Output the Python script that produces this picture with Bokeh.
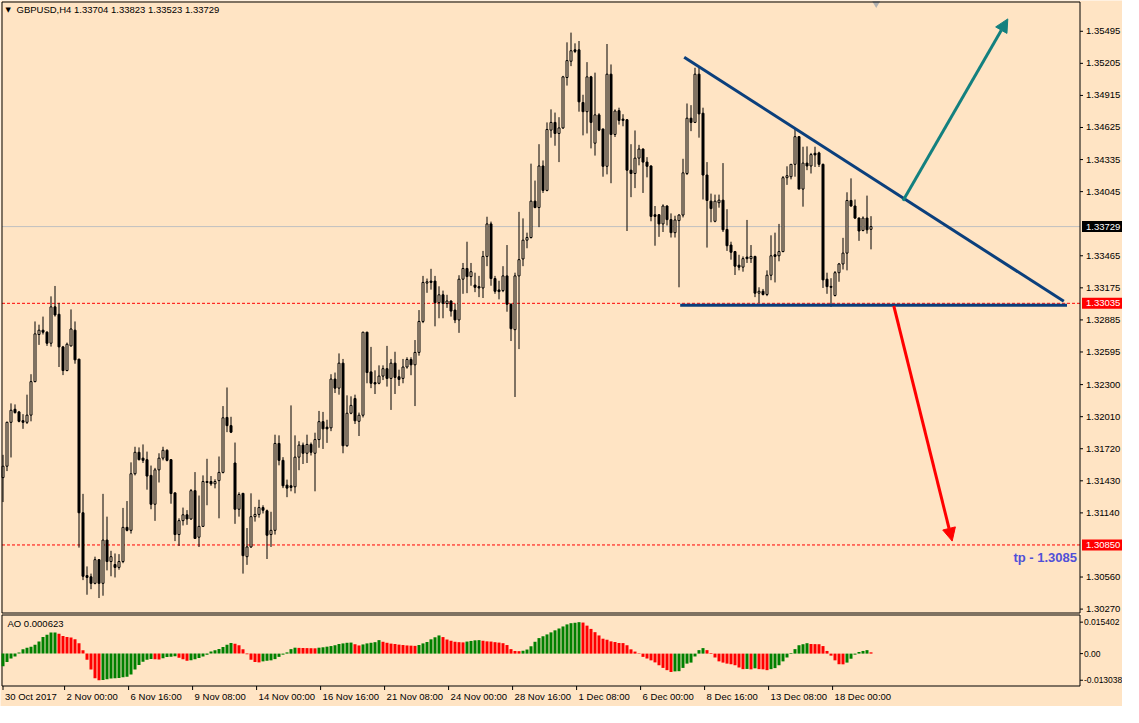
import numpy as np
from bokeh.plotting import figure
from bokeh.models import Range1d, ColumnDataSource, Arrow, NormalHead
from bokeh.core.properties import value
from bokeh.embed import file_html
from bokeh.resources import INLINE

BG = "#FFE4C4"
FONT = "Liberation Sans"
FS = "9.5px"

chart_title = "GBPUSD,H4  1.33704 1.33823 1.33523 1.33729"
ao_title = "AO 0.000623"

opens = [1.31459,1.31562,1.31959,1.32077,1.32053,1.31974,1.31959,1.32024,1.32327,1.32753,
1.32792,1.32774,1.32674,1.33003,1.32936,1.32641,1.32427,1.32650,1.32792,1.32530,
1.31141,1.30573,1.30562,1.30503,1.30717,1.30503,1.30894,1.30700,1.30673,1.30647,
1.30700,1.31009,1.30982,1.31494,1.31688,1.31635,1.31621,1.31479,1.31218,1.31529,
1.31635,1.31706,1.31621,1.31321,1.30944,1.31070,1.31123,1.31085,1.31341,1.30920,
1.31018,1.31424,1.31424,1.31403,1.31432,1.31506,1.32003,1.31929,1.31591,1.31173,
1.31317,1.30744,1.30832,1.31106,1.31126,1.31188,1.31159,1.30944,1.30982,1.31768,
1.31615,1.31391,1.31385,1.31376,1.31644,1.31753,1.31679,1.31759,1.31679,1.31803,
1.31965,1.31915,1.31909,1.32350,1.32268,1.32494,1.31747,1.32041,1.32174,1.31968,
1.32023,1.32774,1.32415,1.32318,1.32312,1.32377,1.32444,1.32356,1.32494,1.32371,
1.32356,1.32459,1.32527,1.32479,1.32591,1.32871,1.33218,1.33236,1.33236,1.33041,
1.33112,1.33033,1.33056,1.32974,1.32885,1.33253,1.33350,1.33277,1.33200,1.33186,
1.33174,1.33459,1.33753,1.33259,1.33156,1.33150,1.33283,1.33027,1.32797,1.33283,
1.33436,1.33606,1.33630,1.33959,1.33901,1.34277,1.34056,1.34601,1.34671,1.34571,
1.34621,1.35077,1.35224,1.35327,1.35327,1.34851,1.34768,1.35083,1.34483,1.34739,
1.34612,1.34274,1.35107,1.34562,1.34777,1.34701,1.34695,1.34239,1.34209,1.34348,
1.34430,1.34312,1.34277,1.33836,1.33836,1.33753,1.33915,1.33792,1.33674,1.33783,
1.33833,1.34209,1.34709,1.34671,1.35107,1.34754,1.34195,1.33959,1.33777,1.33945,
1.33968,1.33703,1.33562,1.33503,1.33380,1.33362,1.33453,1.33439,1.33459,1.33127,
1.33144,1.33115,1.33289,1.33474,1.33465,1.33503,1.34171,1.34180,1.34292,1.34542,
1.34068,1.34303,1.34277,1.34392,1.34395,1.34292,1.33253,1.33188,1.33106,1.33312,
1.33391,1.33489,1.33965,1.33915,1.33806,1.33694,1.33806,1.33704]

highs = [1.31665,1.31965,1.32130,1.32121,1.32062,1.32033,1.32209,1.32394,1.32871,1.32842,
1.32915,1.32783,1.33098,1.33192,1.33039,1.32650,1.32680,1.32980,1.32871,1.32533,
1.31312,1.30656,1.30591,1.30744,1.30723,1.31312,1.31106,1.30797,1.30773,1.30767,
1.31185,1.31247,1.31597,1.31738,1.31732,1.31759,1.31694,1.31568,1.31547,1.31679,
1.31738,1.31715,1.31627,1.31321,1.31091,1.31188,1.31165,1.31356,1.31509,1.31297,
1.31479,1.31629,1.31473,1.31444,1.31650,1.32106,1.32274,1.32009,1.31776,1.31326,
1.31317,1.31003,1.31317,1.31194,1.31259,1.31209,1.31170,1.31150,1.31847,1.31841,
1.31644,1.31441,1.32112,1.31841,1.31788,1.31776,1.31847,1.31776,1.31865,1.32062,
1.32053,1.31982,1.32394,1.32409,1.32582,1.32532,1.32203,1.32194,1.32209,1.32047,
1.32777,1.32777,1.32641,1.32429,1.32474,1.32474,1.32650,1.32532,1.32597,1.32435,
1.32532,1.32547,1.32547,1.32703,1.32974,1.33283,1.33259,1.33347,1.33283,1.33189,
1.33150,1.33112,1.33062,1.33033,1.33289,1.33400,1.33592,1.33400,1.33312,1.33283,
1.33509,1.33818,1.33774,1.33283,1.33239,1.33371,1.33562,1.33033,1.33312,1.33862,
1.33803,1.33674,1.34298,1.34145,1.34474,1.34327,1.34671,1.34789,1.34760,1.34718,
1.35092,1.35395,1.35483,1.35386,1.35407,1.34921,1.35216,1.35092,1.35121,1.34754,
1.34612,1.35380,1.35195,1.34789,1.34804,1.34745,1.34701,1.34474,1.34598,1.34468,
1.34436,1.34357,1.34283,1.33915,1.33842,1.33930,1.33921,1.33848,1.33827,1.33842,
1.34342,1.34842,1.34827,1.35165,1.35180,1.34804,1.34312,1.34027,1.34018,1.34018,
1.34303,1.33886,1.33592,1.33509,1.33474,1.33459,1.33789,1.33562,1.33465,1.33180,
1.33165,1.33333,1.33650,1.33674,1.33753,1.34186,1.34274,1.34292,1.34621,1.34548,
1.34451,1.34454,1.34395,1.34451,1.34406,1.34298,1.33312,1.33262,1.33327,1.33400,
1.33627,1.34039,1.34165,1.33974,1.33812,1.33821,1.34009,1.33823]

lows = [1.31238,1.31518,1.31641,1.32038,1.31959,1.31900,1.31944,1.31968,1.32321,1.32659,
1.32753,1.32650,1.32644,1.32915,1.32459,1.32386,1.32421,1.32644,1.32489,1.30826,
1.30532,1.30400,1.30450,1.30494,1.30370,1.30391,1.30620,1.30567,1.30556,1.30626,
1.30685,1.30973,1.30953,1.31479,1.31615,1.31591,1.31350,1.31173,1.31068,1.31415,
1.31615,1.31606,1.31223,1.30885,1.30841,1.31026,1.31032,1.31076,1.30909,1.30832,
1.31012,1.31209,1.31385,1.31362,1.31091,1.31497,1.31870,1.31862,1.31041,1.31106,
1.30591,1.30670,1.30823,1.31061,1.31097,1.31135,1.30723,1.30832,1.30944,1.31570,
1.31364,1.31282,1.31335,1.31317,1.31526,1.31582,1.31591,1.31659,1.31335,1.31729,
1.31718,1.31773,1.31879,1.32224,1.32209,1.31679,1.31738,1.32032,1.31944,1.31835,
1.32003,1.32312,1.32268,1.32215,1.32303,1.32341,1.32282,1.32071,1.32215,1.32288,
1.32312,1.32444,1.32385,1.32106,1.32562,1.32856,1.33130,1.33159,1.32827,1.32900,
1.32900,1.32994,1.32915,1.32856,1.32768,1.33121,1.33127,1.33194,1.33136,1.33091,
1.33083,1.33371,1.33194,1.33121,1.33071,1.33136,1.32959,1.32694,1.32188,1.32621,
1.33371,1.33533,1.33621,1.33895,1.33724,1.34033,1.34048,1.34533,1.34460,1.34312,
1.34612,1.35004,1.35180,1.35298,1.34768,1.34554,1.34571,1.34436,1.34371,1.34592,
1.34180,1.34201,1.34121,1.34539,1.34651,1.34636,1.33689,1.33995,1.34077,1.34283,
1.34033,1.34174,1.33777,1.33556,1.33636,1.33680,1.33739,1.33630,1.33630,1.33180,
1.33812,1.34195,1.34592,1.34665,1.34533,1.33974,1.33539,1.33768,1.33768,1.33900,
1.33680,1.33509,1.33430,1.33291,1.33333,1.33321,1.33400,1.33400,1.33091,1.33038,
1.33106,1.33100,1.33244,1.33224,1.33415,1.33497,1.34106,1.34156,1.34180,1.34068,
1.33909,1.34239,1.34209,1.34268,1.34268,1.33174,1.33121,1.33003,1.33097,1.33230,
1.33341,1.33333,1.33909,1.33797,1.33600,1.33686,1.33665,1.33523]

closes = [1.31562,1.31959,1.32068,1.32047,1.31968,1.31959,1.32024,1.32327,1.32759,1.32792,
1.32774,1.32674,1.33003,1.32930,1.32641,1.32427,1.32665,1.32803,1.32524,1.31141,
1.30567,1.30556,1.30503,1.30717,1.30503,1.30894,1.30700,1.30744,1.30647,1.30700,
1.31009,1.30982,1.31494,1.31688,1.31621,1.31615,1.31473,1.31218,1.31529,1.31635,
1.31706,1.31615,1.31315,1.30944,1.31070,1.31123,1.31085,1.31341,1.30909,1.31018,
1.31424,1.31415,1.31403,1.31424,1.31506,1.32000,1.31929,1.31870,1.31173,1.31306,
1.30753,1.30832,1.31106,1.31126,1.31188,1.31164,1.30938,1.30982,1.31768,1.31615,
1.31385,1.31364,1.31370,1.31644,1.31753,1.31679,1.31759,1.31688,1.31803,1.31965,
1.31900,1.31900,1.32350,1.32268,1.32494,1.31747,1.32041,1.32112,1.31973,1.32023,
1.32774,1.32409,1.32312,1.32306,1.32377,1.32444,1.32356,1.32494,1.32365,1.32347,
1.32459,1.32527,1.32479,1.32591,1.32871,1.33224,1.33230,1.33224,1.33041,1.33112,
1.33033,1.33056,1.32965,1.32885,1.33253,1.33350,1.33277,1.33321,1.33180,1.33174,
1.33459,1.33753,1.33259,1.33144,1.33141,1.33283,1.33027,1.32806,1.33283,1.33430,
1.33606,1.33630,1.33959,1.33901,1.34277,1.34056,1.34607,1.34671,1.34571,1.34621,
1.35083,1.35230,1.35319,1.35313,1.34857,1.34768,1.35083,1.34671,1.34739,1.34601,
1.34274,1.35107,1.34562,1.34774,1.34689,1.34689,1.34239,1.34209,1.34348,1.34430,
1.34312,1.34274,1.33821,1.33821,1.33753,1.33915,1.33792,1.33674,1.33789,1.33833,
1.34215,1.34709,1.34671,1.35107,1.34748,1.34195,1.33965,1.33892,1.33959,1.33968,
1.33700,1.33556,1.33497,1.33371,1.33362,1.33439,1.33439,1.33459,1.33127,1.33144,
1.33115,1.33289,1.33465,1.33459,1.33503,1.34171,1.34189,1.34292,1.34542,1.34068,
1.34303,1.34277,1.34380,1.34377,1.34292,1.33247,1.33186,1.33180,1.33312,1.33391,
1.33489,1.33965,1.33915,1.33806,1.33689,1.33806,1.33700,1.33729]

ao = [-0.00620,-0.00410,-0.00240,-0.00140,0.00060,0.00210,0.00290,0.00330,0.00440,0.00590,
0.00810,0.00920,0.01030,0.01035,0.00970,0.00860,0.00810,0.00790,0.00700,0.00510,
0.00170,-0.00300,-0.00780,-0.01210,-0.013038,-0.01290,-0.01250,-0.01220,-0.01210,-0.01190,
-0.01160,-0.01130,-0.01020,-0.00780,-0.00560,-0.00400,-0.00300,-0.00260,-0.00280,-0.00290,
-0.00230,-0.00170,-0.00150,-0.00130,-0.00200,-0.00270,-0.00350,-0.00320,-0.00270,-0.00220,
-0.00140,-0.00060,0.00100,0.00170,0.00220,0.00320,0.00430,0.00520,0.00480,0.00410,
0.00210,-0.00030,-0.00300,-0.00410,-0.00430,-0.00380,-0.00350,-0.00330,-0.00270,-0.00160,
-0.00050,0.00060,0.00220,0.00290,0.00280,0.00275,0.00270,0.00265,0.00260,0.00290,
0.00310,0.00340,0.00370,0.00410,0.00470,0.00500,0.00530,0.00540,0.00460,0.00400,
0.00450,0.00500,0.00530,0.00560,0.00660,0.00580,0.00530,0.00490,0.00470,0.00440,
0.00420,0.00400,0.00390,0.00380,0.00420,0.00500,0.00570,0.00700,0.00800,0.00890,
0.00810,0.00690,0.00630,0.00580,0.00560,0.00550,0.00590,0.00620,0.00650,0.00660,
0.00630,0.00600,0.00590,0.00560,0.00540,0.00510,0.00420,0.00220,0.00130,0.00120,
0.00140,0.00200,0.00360,0.00580,0.00760,0.00850,0.00940,0.01040,0.01140,0.01230,
0.01330,0.01430,0.01490,0.01510,0.015402,0.01520,0.01370,0.01210,0.01050,0.00890,
0.00730,0.00680,0.00600,0.00570,0.00520,0.00515,0.00410,0.00210,0.00100,0.00020,
-0.00160,-0.00240,-0.00330,-0.00430,-0.00570,-0.00700,-0.00810,-0.00900,-0.00870,-0.00860,
-0.00700,-0.00490,-0.00440,-0.00140,0.00170,0.00270,0.00170,0.00030,-0.00190,-0.00380,
-0.00440,-0.00490,-0.00520,-0.00570,-0.00680,-0.00760,-0.00750,-0.00770,-0.00720,-0.00760,
-0.00770,-0.00810,-0.00760,-0.00710,-0.00570,-0.00380,-0.00190,0.00030,0.00220,0.00410,
0.00460,0.00510,0.00470,0.00465,0.00460,0.00370,0.00130,-0.00100,-0.00330,-0.00520,
-0.00525,-0.00440,-0.00250,-0.00050,0.00080,0.00130,0.00170,0.000623]

price_ticks = [1.35495, 1.35205, 1.34915, 1.34625, 1.34335, 1.34045, 1.33465, 1.33175,
               1.32885, 1.32595, 1.32300, 1.32010, 1.31720, 1.31430, 1.31140, 1.30560, 1.30270]
ao_ticks = [0.015402, 0.0, -0.013038]
ao_tick_labels = ["0.015402", "0.00", "-0.013038"]
time_tick_idx = [0, 15.4, 31.4, 47.4, 63.4, 79.4, 95.4, 111.4, 127.4, 143.4, 159.4, 175.4, 191.4, 207.4]
time_labels = ["30 Oct 2017", "2 Nov 00:00", "6 Nov 16:00", "9 Nov 08:00", "14 Nov 00:00",
               "16 Nov 16:00", "21 Nov 08:00", "24 Nov 00:00", "28 Nov 16:00", "1 Dec 08:00",
               "6 Dec 00:00", "8 Dec 16:00", "13 Dec 08:00", "18 Dec 00:00"]

# horizontal levels
support_level = 1.33035
tp_level = 1.30850
bid_level = 1.33729

# drawn objects: (bar index, price)
trend_x = [170.3, 265.2]
trend_y = [1.35261, 1.33053]
base_x = [169.3, 266.0]
base_y = [1.33018, 1.33018]
up_arrow = (225.0, 1.33963, 251.2, 1.35607)
down_arrow = (222.7, 1.33012, 237.3, 1.30885)
tp_text = "tp - 1.3085"
tp_text_pos = (252.6, 1.30738)
shift_marker_idx = 218.3

# visible data window of the chart panes
X_START, X_END = -0.25, 269.25
Y_START, Y_END = 1.302347, 1.357598
AO_START, AO_END = -0.015857, 0.018905

# ---- page layout in pixels ----
W, H = 1122, 706
CH_L, CH_R = 1.5, 1079.5
M_T, M_B = 1.5, 612.5
A_T, A_B = 614.5, 685.5

ppu = (CH_R - CH_L) / (X_END - X_START)
ppy = (M_B - M_T) / (Y_END - Y_START)
ppa = (A_B - A_T) / (AO_END - AO_START)

def xpx(px):
    return X_START + (px - CH_L) / ppu

def ypx(py):
    return Y_END - (py - M_T) / ppy

def apx(py):
    return AO_END - (py - A_T) / ppa

p = figure(width=W, height=H, x_range=Range1d(xpx(0), xpx(W)), y_range=Range1d(ypx(H), ypx(0)),
           output_backend="svg", toolbar_location=None, x_axis_location=None, y_axis_location=None,
           background_fill_color=BG, border_fill_color=BG, min_border=0)
p.extra_y_ranges = {"ao": Range1d(apx(H), apx(0))}
p.grid.visible = False
p.outline_line_color = None

TXT = dict(text_font=value(FONT), text_font_size=value(FS), text_baseline="middle")

# level lines (under the candles)
p.segment(x0=[xpx(CH_L)], y0=[bid_level], x1=[xpx(CH_R)], y1=[bid_level], line_color="#C0C0C0", line_width=1)
for lvl in (support_level, tp_level):
    p.segment(x0=[xpx(CH_L)], y0=[lvl], x1=[xpx(CH_R + 3)], y1=[lvl], line_color="#FF0000",
              line_width=1, line_dash="3 2")

# candles
N = len(closes)
idx = np.arange(N)
o = np.array(opens); h = np.array(highs); l = np.array(lows); c = np.array(closes)
src = ColumnDataSource(dict(x=idx, h=h, l=l, top=np.maximum(o, c), bottom=np.minimum(o, c),
                            fill=[BG if cc >= oo else "black" for oo, cc in zip(o, c)]))
p.segment(x0="x", y0="h", x1="x", y1="l", source=src, line_color="black", line_width=1)
p.vbar(x="x", width=0.5, top="top", bottom="bottom", source=src,
       fill_color="fill", line_color="black", line_width=1)

# triangle pattern
NAVY = "#0B3F7C"
p.line(trend_x, trend_y, line_color=NAVY, line_width=3)
p.line(base_x, base_y, line_color=NAVY, line_width=3)

TEAL = "#13807F"
p.add_layout(Arrow(end=NormalHead(size=13, fill_color=TEAL, line_color=TEAL, line_width=1),
                   x_start=up_arrow[0], y_start=up_arrow[1], x_end=up_arrow[2], y_end=up_arrow[3],
                   line_color=TEAL, line_width=3))
p.add_layout(Arrow(end=NormalHead(size=13, fill_color="#FF0000", line_color="#FF0000", line_width=1),
                   x_start=down_arrow[0], y_start=down_arrow[1], x_end=down_arrow[2], y_end=down_arrow[3],
                   line_color="#FF0000", line_width=3))

p.text(x=[tp_text_pos[0]], y=[tp_text_pos[1]], text=[tp_text], text_font=value(FONT),
       text_font_size=value("13px"), text_font_style="bold", text_color="#5050D8",
       text_baseline="middle", text_align="left")

# header texts
p.text(x=[xpx(5)], y=[ypx(9)], text=["\u25bc"], text_font=value("DejaVu Sans"),
       text_font_size=value("7px"), text_color="black", text_baseline="middle")
p.text(x=[xpx(16)], y=[ypx(9)], text=[chart_title], text_color="black", **TXT)
p.scatter(x=[shift_marker_idx], y=[ypx(3)], marker="inverted_triangle", size=8,
          fill_color="#B0B0B0", line_color=None)

# pane frames
p.quad(left=[xpx(CH_L)], right=[xpx(CH_R)], top=[ypx(M_T)], bottom=[ypx(M_B)],
       fill_color=None, line_color="black", line_width=1)
p.quad(left=[xpx(CH_L)], right=[xpx(CH_R)], top=[apx(A_T)], bottom=[apx(A_B)],
       fill_color=None, line_color="black", line_width=1, y_range_name="ao")

# price scale
p.segment(x0=[xpx(CH_R)] * len(price_ticks), y0=price_ticks, x1=[xpx(CH_R + 3)] * len(price_ticks),
          y1=price_ticks, line_color="black", line_width=1)
p.text(x=[xpx(CH_R + 6)] * len(price_ticks), y=price_ticks, text=[f"{t:.5f}" for t in price_ticks],
       text_color="black", **TXT)

# highlighted prices on the scale
box_levels = [bid_level, support_level, tp_level]
box_colors = ["black", "#FF0000", "#FF0000"]
p.quad(left=[xpx(CH_R + 2)] * 3, right=[xpx(W)] * 3,
       top=[v + 5.5 / ppy for v in box_levels], bottom=[v - 5.5 / ppy for v in box_levels],
       fill_color=box_colors, line_color=None)
p.text(x=[xpx(CH_R + 6)] * 3, y=box_levels, text=[f"{v:.5f}" for v in box_levels],
       text_color="white", **TXT)

# AO histogram
ao_arr = np.array(ao)
ao_col = ["#008000"]
for i in range(1, N):
    if ao_arr[i] > ao_arr[i - 1]:
        ao_col.append("#008000")
    elif ao_arr[i] < ao_arr[i - 1]:
        ao_col.append("#FF0000")
    else:
        ao_col.append(ao_col[-1])
p.vbar(x=idx, top=ao_arr, bottom=0, width=0.75, fill_color=ao_col, line_color=None, y_range_name="ao")

p.text(x=[xpx(7)], y=[apx(A_T + 8)], text=[ao_title], text_color="black", y_range_name="ao", **TXT)

# AO scale
p.segment(x0=[xpx(CH_R)] * 3, y0=ao_ticks, x1=[xpx(CH_R + 3)] * 3, y1=ao_ticks,
          line_color="black", line_width=1, y_range_name="ao")
p.text(x=[xpx(CH_R + 4)] * 3, y=ao_ticks, text=ao_tick_labels, text_color="black",
       text_font=value(FONT), text_font_size=value("8.5px"), text_baseline="middle", y_range_name="ao")

# time scale
p.segment(x0=time_tick_idx, y0=[apx(A_B)] * len(time_tick_idx), x1=time_tick_idx,
          y1=[apx(A_B + 4)] * len(time_tick_idx), line_color="black", line_width=1, y_range_name="ao")
p.text(x=time_tick_idx, y=[apx(A_B + 10)] * len(time_tick_idx), text=time_labels, x_offset=2,
       text_color="black", y_range_name="ao", **TXT)

open("out.html", "w").write(file_html(p, INLINE))
